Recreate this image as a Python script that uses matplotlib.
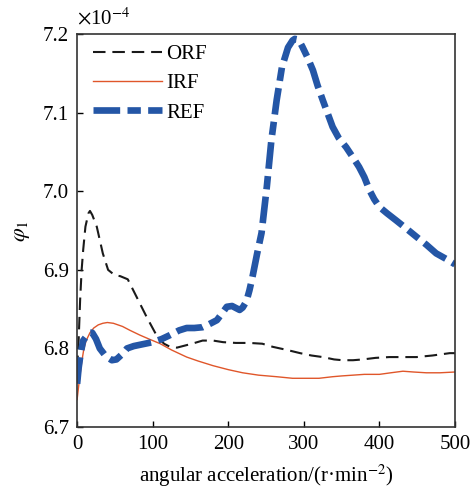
import matplotlib
matplotlib.use("Agg")
import matplotlib.pyplot as plt

# ---- data (values in units of 1e-4) ----
orf_x = [0, 2, 4, 6, 8, 11, 15, 17, 20, 26, 34, 41, 50, 57, 67, 79, 92, 106, 115, 123, 132, 140,
         152, 166, 180, 193, 210, 228, 245, 259, 278, 295, 310, 325, 340, 351, 365, 378, 395,
         413, 430, 449, 470, 493, 500]
orf_y = [6.775, 6.81, 6.862, 6.90, 6.925, 6.955, 6.972, 6.975, 6.97, 6.955, 6.921, 6.90, 6.893,
         6.892, 6.888, 6.865, 6.84, 6.815, 6.806, 6.802, 6.801, 6.803, 6.806, 6.81, 6.81, 6.808,
         6.807, 6.807, 6.806, 6.802, 6.798, 6.794, 6.791, 6.789, 6.786, 6.785, 6.785, 6.786,
         6.788, 6.789, 6.789, 6.789, 6.791, 6.794, 6.794]

irf_x = [0, 3, 6, 9, 12, 17, 22, 28, 34, 40, 48, 60, 70, 83, 95, 110, 125, 145, 160, 180, 200,
         219, 240, 264, 285, 304, 320, 338, 350, 365, 380, 400, 415, 431, 445, 462, 480, 500]
irf_y = [6.735, 6.76, 6.782, 6.80, 6.81, 6.82, 6.826, 6.83, 6.832, 6.833, 6.832, 6.828, 6.823,
         6.817, 6.812, 6.806, 6.798, 6.789, 6.784, 6.778, 6.773, 6.769, 6.766, 6.764, 6.762,
         6.762, 6.762, 6.764, 6.765, 6.766, 6.767, 6.767, 6.769, 6.771, 6.770, 6.769, 6.769, 6.770]

ref_x = [0, 2, 4, 6, 8, 12, 16, 20, 25, 30, 38, 46, 52, 60, 66, 75, 85, 100, 112, 123, 135, 145,
         155, 166, 175, 185, 192, 198, 205, 211, 215, 219, 224, 228, 232, 238, 244, 251, 257, 264,
         271, 279, 285, 288, 293, 298, 305, 312, 318, 325, 338, 346, 356, 365, 373, 380, 387, 393,
         400, 410, 422, 435, 449, 462, 475, 488, 500]
ref_y = [6.755, 6.775, 6.789, 6.80, 6.81, 6.815, 6.82, 6.82, 6.812, 6.80, 6.79, 6.785, 6.786,
         6.793, 6.80, 6.803, 6.805, 6.808, 6.812, 6.817, 6.823, 6.826, 6.826, 6.827, 6.831, 6.836,
         6.845, 6.853, 6.854, 6.851, 6.849, 6.852, 6.86, 6.874, 6.891, 6.92, 6.947, 7.006, 7.065,
         7.116, 7.158, 7.183, 7.192, 7.194, 7.193, 7.184, 7.17, 7.154, 7.135, 7.116, 7.082, 7.068,
         7.056, 7.043, 7.031, 7.018, 7.001, 6.99, 6.98, 6.972, 6.963, 6.953, 6.942, 6.932, 6.921,
         6.914, 6.907]

labels = ["ORF", "IRF", "REF"]
x_ticks = [0, 100, 200, 300, 400, 500]
y_ticks = [6.7, 6.8, 6.9, 7.0, 7.1, 7.2]

plt.rcParams["font.family"] = ["Liberation Serif", "DejaVu Serif"]
plt.rcParams["mathtext.fontset"] = "stix"

fig = plt.figure(figsize=(4.76, 4.88), dpi=100)
ax = fig.add_axes([0.162, 0.125, 0.794, 0.805])

ax.plot(orf_x, orf_y, color="#1a1a1a", lw=1.5, dashes=(6, 3.3), label=labels[0])
ax.plot(irf_x, irf_y, color="#E0562A", lw=1.0, label=labels[1])
ax.plot(ref_x, ref_y, color="#2456A6", lw=4.8, dashes=(4, 1.1, 2, 1.1), label=labels[2])

ax.set_xlim(0, 500)
ax.set_ylim(6.7, 7.2)
ax.set_xticks(x_ticks)
ax.set_yticks(y_ticks)
ax.set_yticklabels([f"{v:.1f}" for v in y_ticks])
ax.tick_params(direction="in", length=4.5, width=1, labelsize=15, pad=6,
               top=False, right=False)
for s in ax.spines.values():
    s.set_linewidth(1.2)
    s.set_color("#333333")

ax.set_xlabel("angular acceleration/(r·min$^{-2}$)", fontsize=15, labelpad=6)
ax.set_ylabel(r"$\varphi_1$", fontsize=16, labelpad=8)
ax.text(0.0, 1.012, r"$\times$10$^{-4}$", transform=ax.transAxes, fontsize=15,
        ha="left", va="bottom")

ax.legend(loc="upper left", bbox_to_anchor=(0.02, 0.995), frameon=False, fontsize=15,
          handlelength=3.3, handletextpad=0.2, labelspacing=0.47, borderaxespad=0)

fig.savefig("out.png", dpi=100)
